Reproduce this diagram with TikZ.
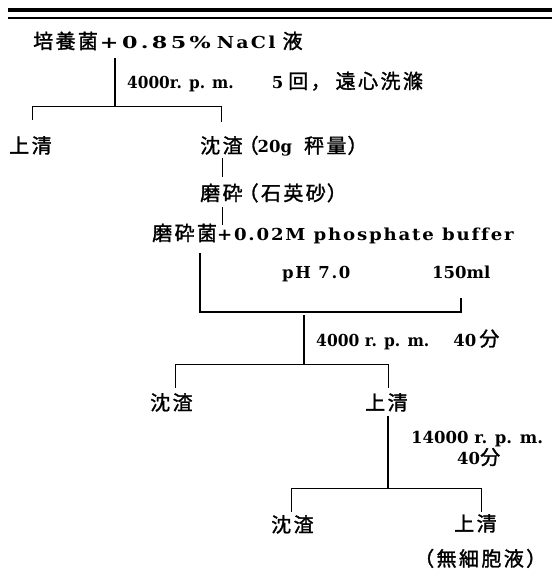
\documentclass[tikz,border=0pt]{standalone}
\usepackage{fontspec}
\usepackage{graphicx}
\setmainfont{DejaVu Serif}[Ligatures=NoCommon]
\newfontfamily\cjk{Noto Sans CJK JP}[LetterSpace=12,FakeBold=1.5]
\newcommand\J[1]{{\cjk\mdseries\fontsize{20}{22}\selectfont #1}}
\newcommand\La[3]{\scalebox{#1}[1]{\addfontfeature{LetterSpace=#2}#3}}
\begin{document}
\begin{tikzpicture}[x=1pt,y=-1pt,
  lbl/.style={inner sep=0pt, anchor=base west, font=\fontsize{16.5}{19}\selectfont\bfseries},
  ln/.style={line width=0.8pt},
  stem/.style={line width=1.1pt}]
\useasboundingbox (0,0) rectangle (552,572);
% top rules
\draw[line width=4pt] (8,10.5) -- (552,10.5);
\draw[line width=1.2pt] (8,18) -- (552,18);
% texts
\node[lbl] (t1) at (33,48.5) {\J{培養菌}\hspace{2pt}\La{1.35}{15}{+0.85\%}\hspace{6pt}\La{1.15}{12}{NaCl}\hspace{7pt}\J{液}};
\node[lbl] (l1) at (127,88.5) {\La{0.93}{0}{4000r. p. m.}\hspace{38pt}5\hspace{5pt}\J{回，}\hspace{5pt}\J{遠心洗滌}};
\node[lbl] (s1) at (9,153) {\J{上清}};
\node[lbl] (p1) at (200,153) {\J{沈渣}\hspace{-4pt}\J{（}\hspace{-1pt}20g\hspace{12pt}\J{秤量}\hspace{1pt}\J{）}};
\node[lbl] (g1) at (200,200.5) {\J{磨砕}\hspace{-4pt}\J{（石英砂}\hspace{1pt}\J{）}};
\node[lbl] (m1) at (152,240.5) {\J{磨砕菌}\La{1.1}{10}{+0.02M}\hspace{8pt}\La{1.1}{10}{phosphate buffer}};
\node[lbl] (ph) at (282,278) {\La{1}{10}{pH 7.0}};
\node[lbl] (ml) at (432,278) {150ml};
\node[lbl] (l2) at (316,346) {\La{0.94}{0}{4000 r. p. m.}\hspace{24pt}40\hspace{3pt}\J{分}};
\node[lbl] (p2) at (150,410) {\J{沈渣}};
\node[lbl] (s2) at (365,410) {\J{上清}};
\node[lbl] (l3a) at (411,443.5) {14000 r. p. m.};
\node[lbl] (l3b) at (457,464.5) {40\J{分}};
\node[lbl] (p3) at (271,532) {\J{沈渣}};
\node[lbl] (s3) at (454,531) {\J{上清}};
\node[lbl] (f) at (414,566) {\J{（無細胞液）}};
% junction coordinates
\coordinate (j1t) at (115,58);
\coordinate (j1) at (115,106);
\coordinate (a1) at (32,106);
\coordinate (a1e) at (32,120);
\coordinate (b1) at (221,106);
\coordinate (b1e) at (221,122);
\coordinate (c1) at (222,158);
\coordinate (c2) at (222,177);
\coordinate (c3) at (222,207);
\coordinate (c4) at (222,225);
\coordinate (d1) at (200,253);
\coordinate (d2) at (200,312);
\coordinate (d3) at (461,298);
\coordinate (d4) at (461,312);
\coordinate (e1) at (304,315);
\coordinate (e2) at (304,364);
\coordinate (f1) at (175,364);
\coordinate (f1e) at (175,388);
\coordinate (f2) at (388,364);
\coordinate (f2e) at (388,388);
\coordinate (g1t) at (388,416);
\coordinate (g2) at (388,488);
\coordinate (h1) at (291,488);
\coordinate (h1e) at (291,512);
\coordinate (h2) at (481,488);
\coordinate (h2e) at (481,512);
% connectors
\draw[stem] (j1t) -- (j1);
\draw[ln] (a1e) -- (a1) -- (b1) -- (b1e);
\draw[ln] (c1) -- (c2);
\draw[ln] (c3) -- (c4);
\draw[stem] (d1) -- (d2) -- (d4) -- (d3);
\draw[stem] (e1) -- (e2);
\draw[ln] (f1e) -- (f1) -- (f2) -- (f2e);
\draw[stem] (g1t) -- (g2);
\draw[ln] (h1e) -- (h1) -- (h2) -- (h2e);
\end{tikzpicture}
\end{document}
